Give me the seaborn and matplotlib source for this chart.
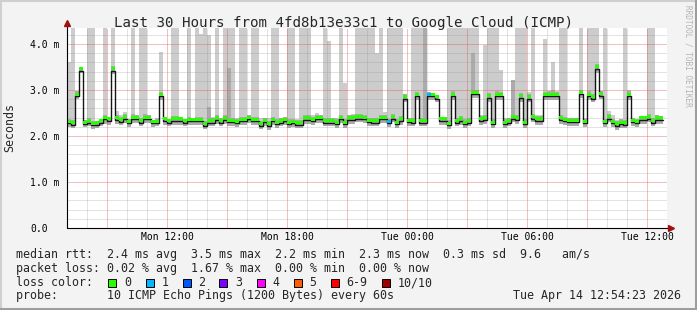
import numpy as np
import pandas as pd
import matplotlib
matplotlib.use("Agg")
import matplotlib.pyplot as plt
import seaborn as sns
from matplotlib.patches import Rectangle
from matplotlib.lines import Line2D

# ---------------- data ----------------
F = 4.6  # smoke beyond the top of the graph
step_hours = 0.2  # 12-minute consolidation step, start Mon 07:00

median = [
    2.28, 2.25, 2.87, 3.42, 2.26, 2.29, 2.23, 2.25, 2.29, 2.36,
    2.33, 3.42, 2.35, 2.31, 2.38, 2.28, 2.37, 2.37, 2.29, 2.37,
    2.37, 2.28, 2.28, 2.86, 2.33, 2.29, 2.33, 2.33, 2.33, 2.29,
    2.32, 2.32, 2.32, 2.32, 2.22, 2.29, 2.29, 2.35, 2.29, 2.35,
    2.30, 2.30, 2.28, 2.32, 2.32, 2.36, 2.32, 2.32, 2.22, 2.30,
    2.22, 2.32, 2.26, 2.29, 2.32, 2.26, 2.28, 2.25, 2.25, 2.35,
    2.35, 2.32, 2.36, 2.36, 2.29, 2.29, 2.29, 2.26, 2.36, 2.26,
    2.35, 2.35, 2.38, 2.38, 2.36, 2.30, 2.29, 2.29, 2.36, 2.36,
    2.28, 2.38, 2.26, 2.33, 2.81, 2.30, 2.29, 2.86, 2.29, 2.29,
    2.86, 2.87, 2.81, 2.33, 2.33, 2.24, 2.87, 2.29, 2.33, 2.26,
    2.29, 2.91, 2.91, 2.33, 2.35, 2.83, 2.26, 2.87, 2.86, 2.26,
    2.29, 2.38, 2.35, 2.83, 2.26, 2.81, 2.38, 2.33, 2.33, 2.86,
    2.87, 2.86, 2.86, 2.35, 2.32, 2.30, 2.30, 2.30, 2.91, 2.28,
    2.87, 2.81, 3.46, 2.88, 2.28, 2.38, 2.28, 2.22, 2.26, 2.25,
    2.87, 2.30, 2.28, 2.35, 2.35, 2.38, 2.29, 2.35, 2.35]

smoke_hi = [
    3.60, F, 2.98, 3.48, 2.35, F, F, 2.32, 2.36, F,
    2.40, F, 2.55, 2.45, 2.52, 2.38, F, 2.45, F, F,
    2.45, 2.35, 2.40, 3.83, 2.40, 2.38, F, F, 2.40, 2.38,
    F, 2.40, F, 4.22, F, 4.20, 2.42, F, 2.40, F,
    F, F, 2.40, F, F, 2.45, F, F, 2.40, 2.40,
    2.40, F, F, 2.40, 2.42, F, F, 2.38, F, F,
    F, 2.45, 2.50, 2.45, F, 4.07, 2.40, 2.40, F, 3.15,
    2.45, 2.48, F, F, F, F, F, 3.80, F, 2.53,
    F, F, F, F, 2.92, 2.40, F, F, F, F,
    2.95, 2.92, 2.90, 2.42, 2.40, F, F, F, F, F,
    F, F, F, 2.45, 3.98, F, F, F, 3.43, 2.40,
    2.40, 3.22, F, F, F, 2.95, F, 2.45, 2.45, 4.10,
    2.98, 3.60, 2.98, F, F, 2.40, 2.40, 2.40, F, 2.40,
    F, F, F, 2.98, F, 2.55, 2.45, 2.35, 2.38, F,
    3.00, 2.40, 2.38, 2.42, 2.42, F, F, 2.45, 2.42]

smoke_lo = [
    2.20, 2.18, 2.80, 3.36, 2.19, 2.21, 2.16, 2.18, 2.21, 2.27,
    2.25, 3.35, 2.27, 2.23, 2.29, 2.20, 2.28, 2.29, 2.21, 2.29,
    2.28, 2.20, 2.21, 2.78, 2.25, 2.21, 2.25, 2.24, 2.25, 2.21,
    2.24, 2.24, 2.23, 2.24, 2.15, 2.21, 2.21, 2.27, 2.21, 2.27,
    2.22, 2.22, 2.20, 2.24, 2.24, 2.28, 2.24, 2.23, 2.15, 2.22,
    2.14, 2.24, 2.18, 2.21, 2.24, 2.18, 2.20, 2.17, 2.17, 2.27,
    2.27, 2.24, 2.28, 2.28, 2.21, 2.21, 2.21, 2.18, 2.28, 2.18,
    2.27, 2.27, 2.30, 2.30, 2.28, 2.22, 2.21, 2.21, 2.28, 2.28,
    2.20, 2.30, 2.18, 2.25, 2.73, 2.22, 2.21, 2.78, 2.21, 2.21,
    2.78, 2.79, 2.73, 2.25, 2.25, 2.16, 2.79, 2.21, 2.25, 2.18,
    2.21, 2.83, 2.83, 2.25, 2.27, 2.75, 2.18, 2.79, 2.78, 2.18,
    2.21, 2.30, 2.27, 2.75, 2.18, 2.73, 2.30, 2.25, 2.25, 2.78,
    2.79, 2.78, 2.78, 2.27, 2.24, 2.22, 2.22, 2.22, 2.83, 2.20,
    2.79, 2.73, 3.38, 2.80, 2.20, 2.30, 2.20, 2.14, 2.18, 2.17,
    2.79, 2.22, 2.20, 2.27, 2.27, 2.30, 2.21, 2.27, 2.27]

dark_idx = [35, 40, 89, 101, 111, 121]
dark_top = [2.62, 3.48, F, 3.80, 3.22, 3.00]

loss_idx = [80, 90]
loss_count = [1, 1]

y_ticks = [0, 1, 2, 3, 4]
y_labels = ["0.0", "1.0 m", "2.0 m", "3.0 m", "4.0 m"]
x_major_hours = [2, 5, 8, 11, 14, 17, 20, 23, 26, 29]
x_label_hours = [5, 11, 17, 23, 29]
x_labels = ["Mon 12:00", "Mon 18:00", "Tue 00:00", "Tue 06:00", "Tue 12:00"]

loss_names = ["0", "1", "2", "3", "4", "5", "6-9", "10/10"]
loss_colors = ["#26ff00", "#00b8ff", "#0059ff", "#7e00ff", "#ff00ff",
               "#ff5e00", "#ff0000", "#a10000"]

title = "Last 30 Hours from 4fd8b13e33c1 to Google Cloud (ICMP)"
line_rtt = "median rtt:  2.4 ms avg  3.5 ms max  2.2 ms min  2.3 ms now  0.3 ms sd  9.6   am/s"
line_loss = "packet loss: 0.02 % avg  1.67 % max  0.00 % min  0.00 % now"
line_probe = "probe:       10 ICMP Echo Pings (1200 Bytes) every 60s"
stamp = "Tue Apr 14 12:54:23 2026"

# ---------------- layout ----------------
W, H = 697, 310
sns.set_style("white")
plt.rcParams['font.family'] = ['DejaVu Sans Mono', 'DejaVu Sans']

fig = plt.figure(figsize=(W / 100, H / 100), dpi=100, facecolor='#f3f3f3')


def fx(px):
    return px / W


def fy(py):
    return 1 - py / H


ax = fig.add_axes([fx(67), fy(228), 600 / W, 200 / H])
ax.set_facecolor('white')

med = np.array(median)
hi = np.array(smoke_hi)
lo = np.array(smoke_lo)
n = len(med)
t = np.arange(n + 1) * step_hours


def ext(a):
    return np.append(a, a[-1])


# light smoke
ax.fill_between(t, ext(lo), ext(hi), step='post', color='#cccccc', lw=0, zorder=1)
# darker smoke near median and special columns
dk = np.minimum(hi, med + 0.10)
for i, v in zip(dark_idx, dark_top):
    dk[i] = v
ax.fill_between(t, ext(lo), ext(dk), step='post', color='#ababab', lw=0, zorder=1.2)

# median line
df = pd.DataFrame({'t': t, 'rtt': ext(med)})
sns.lineplot(data=df, x='t', y='rtt', drawstyle='steps-post', color='#151515',
             lw=1.0, ax=ax, zorder=4, legend=False)
ax.set_xlabel('')
ax.set_ylabel('')

# loss-coloured band
band_cols = [loss_colors[0]] * n
for i, c in zip(loss_idx, loss_count):
    band_cols[i] = loss_colors[c]
ax.bar(t[:-1], 0.065, bottom=med + 0.01, width=step_hours, align='edge',
       color=band_cols, lw=0, zorder=5)

ax.set_xlim(0, 30)
ax.set_ylim(0, 200 / 46)

# ticks & grid
ax.set_xticks(x_major_hours)
ax.set_xticklabels([x_labels[x_label_hours.index(h)] if h in x_label_hours else ""
                    for h in x_major_hours])
ax.set_xticks(np.arange(0, 31, 1), minor=True)
ax.set_yticks(y_ticks)
ax.set_yticklabels(y_labels)
ax.set_yticks(np.arange(0, 4.35, 0.2), minor=True)
ax.set_axisbelow(False)
ax.grid(which='minor', color='#8f8f8f', alpha=0.5, lw=0.72, ls=(0, (1, 1)))
ax.grid(which='major', color='#e65050', alpha=0.75, lw=0.72, ls=(0, (1, 1)))
ax.tick_params(axis='x', which='both', length=0, pad=3.2, labelsize=7.05, colors='black')
ax.tick_params(axis='y', which='minor', length=0)
ax.tick_params(axis='y', which='major', length=2.9, width=0.72, pad=23.8,
               labelsize=7.05, colors='black')
for lab in ax.get_yticklabels():
    lab.set_ha('left')
for s in ['top', 'right', 'left', 'bottom']:
    ax.spines[s].set_visible(False)

# axes lines with arrows
fig.add_artist(Line2D([fx(67), fx(67)], [fy(228), fy(24)], color='black', lw=0.8))
fig.add_artist(Line2D([fx(67), fx(670)], [fy(228), fy(228)], color='black', lw=0.8))
fig.add_artist(Line2D([fx(67)], [fy(23)], marker='^', ms=4.2, color='#a01010', lw=0))
fig.add_artist(Line2D([fx(671)], [fy(228)], marker='>', ms=4.2, color='#a01010', lw=0))

# texts
fig.text(fx(344), fy(26.7), title, ha='center', va='baseline', fontsize=10.18)
fig.text(fx(10), fy(127), "Seconds", rotation=90, ha='center', va='center', fontsize=8.4)
fig.text(fx(688), fy(5), "RRDTOOL / TOBI OETIKER", rotation=-90, ha='center', va='top',
         fontsize=5.6, color='#b4b4b4')
fs = 8.4
fig.text(fx(16), fy(258.3), line_rtt, ha='left', va='baseline', fontsize=fs)
fig.text(fx(16), fy(271.7), line_loss, ha='left', va='baseline', fontsize=fs)
fig.text(fx(16), fy(286), "loss color:", ha='left', va='baseline', fontsize=fs)
fig.text(fx(16), fy(299.3), line_probe, ha='left', va='baseline', fontsize=fs)
fig.text(fx(681), fy(299.3), stamp, ha='right', va='baseline', fontsize=fs)

box_x = [108.3, 145.7, 182.7, 219.3, 256.7, 294.0, 330.7, 381.7]
for bx, name, col in zip(box_x, loss_names, loss_colors):
    fig.patches.append(Rectangle((fx(bx), fy(286.5)), 8 / W, 8 / H, transform=fig.transFigure,
                                 facecolor=col, edgecolor='black', lw=0.7))
    fig.text(fx(bx + 15.7), fy(286), name, ha='left', va='baseline', fontsize=fs)

# frame
fig.add_artist(Line2D([0, 1], [fy(0.5), fy(0.5)], color='#cfcfcf', lw=1.5))
fig.add_artist(Line2D([fx(0.5), fx(0.5)], [0, 1], color='#cfcfcf', lw=1.5))
fig.add_artist(Line2D([0, 1], [fy(309), fy(309)], color='#9e9e9e', lw=2.2))
fig.add_artist(Line2D([fx(696), fx(696)], [0, 1], color='#9e9e9e', lw=2.2))

fig.savefig("out.png", dpi=100, facecolor=fig.get_facecolor())
